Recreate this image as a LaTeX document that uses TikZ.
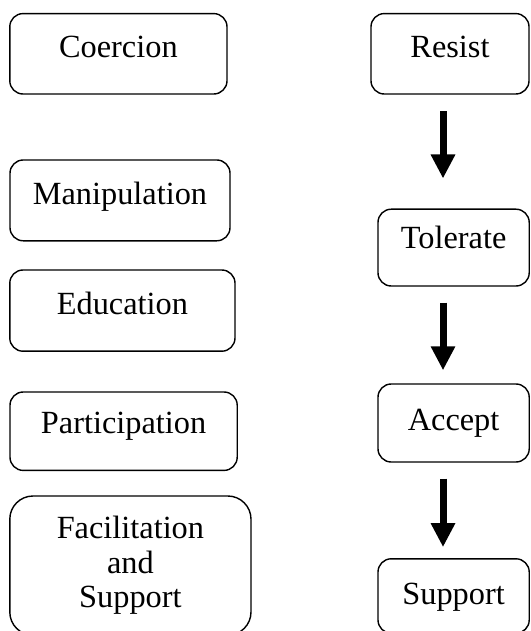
\documentclass[tikz,border=0pt]{standalone}
\usepackage{fontspec}
\setmainfont{Liberation Serif}
\usetikzlibrary{arrows.meta,positioning}
\tikzset{
	cbox/.style={draw=black, line width=1pt, rounded corners=0.33cm,
		fill=white, inner xsep=0pt, inner ysep=0pt, align=center, anchor=base},
	bigarr/.style={-{Triangle[length=0.6cm,width=0.575cm]}, line width=0.175cm,
		draw=black},
}

\begin{document}
\begin{tikzpicture}[font=\fontsize{23pt}{24.5pt}\selectfont]
	\useasboundingbox (0,0) rectangle (13.25,-15.775);

	% Left column: strategies
	\node[cbox,minimum width=5.43cm,text height=1.10cm,text depth=0.91cm] at (2.96,-1.44)  (coer)  {Coercion};
	\node[cbox,minimum width=5.50cm,text height=1.11cm,text depth=0.91cm] at (3.00,-5.11)  (manip) {Manipulation};
	\node[cbox,minimum width=5.63cm,text height=1.10cm,text depth=0.93cm] at (3.06,-7.85)  (edu)   {Education};
	\node[cbox,minimum width=5.68cm,text height=1.03cm,text depth=0.93cm] at (3.09,-10.83) (part)  {Participation};
	\node[cbox,anchor=center,rounded corners=0.58cm,minimum width=6.03cm,minimum height=3.48cm] at (3.26,-14.14) (facil) {Facilitation\\and\\Support};

	% Right column: reactions
	\node[cbox,minimum width=3.95cm,text height=1.10cm,text depth=0.91cm] at (11.25,-1.44)  (resist) {Resist};
	\node[cbox,minimum width=3.78cm,text height=0.98cm,text depth=0.94cm] at (11.34,-6.21)  (toler)  {Tolerate};
	\node[cbox,minimum width=3.78cm,text height=1.15cm,text depth=0.80cm] at (11.34,-10.75) (accept) {Accept};
	\node[cbox,minimum width=3.78cm,text height=1.13cm,text depth=0.73cm] at (11.34,-15.10) (supp)   {Support};

	% arrows (top to bottom)
	\coordinate (ax) at (11.075,0);
	\draw[bigarr,shorten <=0.42cm,shorten >=0.75cm]  (resist.south -| ax) -- (toler.north -| ax);
	\draw[bigarr,shorten <=0.40cm,shorten >=0.325cm] (toler.south -| ax)  -- (accept.north -| ax);
	\draw[bigarr,shorten <=0.40cm,shorten >=0.275cm] (accept.south -| ax) -- (supp.north -| ax);
\end{tikzpicture}
\end{document}
